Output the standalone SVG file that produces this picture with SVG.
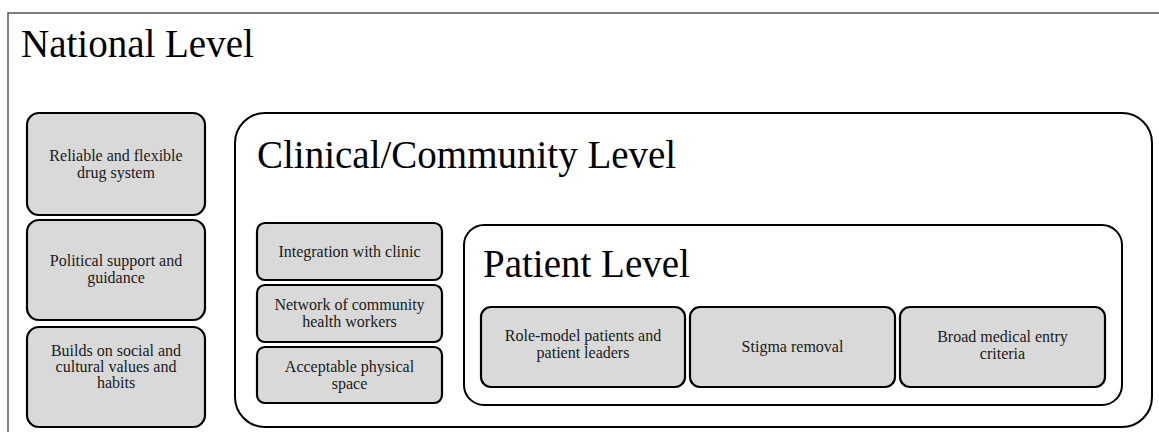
<svg xmlns="http://www.w3.org/2000/svg" width="1159" height="432" viewBox="0 0 1159 432" font-family="Liberation Serif">
<style>
.frame{fill:none;stroke:#555;stroke-width:1.5}
.level{fill:#fff;stroke:#000;stroke-width:2}
.box{fill:#d9d9d9;stroke:#000;stroke-width:2.2}
</style>
<rect x="0" y="0" width="1159" height="432" fill="#fff"/>
<g id="national">
<path class="frame" d="M1159 13 H8 V432"/>
<text x="21" y="57" font-size="39" fill="#000" font-family="Liberation Serif">National Level</text>
</g>
<g id="nat1"><rect class="box" x="27" y="113" width="178" height="102" rx="12"/><text fill="#1a1a1a" font-size="16" text-anchor="middle" font-family="Liberation Serif"><tspan x="116" y="161">Reliable and flexible</tspan><tspan x="116" y="178">drug system</tspan></text></g>
<g id="nat2"><rect class="box" x="27" y="220" width="178" height="100" rx="12"/><text fill="#1a1a1a" font-size="16" text-anchor="middle" font-family="Liberation Serif"><tspan x="116" y="266">Political support and</tspan><tspan x="116" y="283">guidance</tspan></text></g>
<g id="nat3"><rect class="box" x="27" y="327" width="178" height="100" rx="12"/><text fill="#1a1a1a" font-size="16" text-anchor="middle" font-family="Liberation Serif"><tspan x="116" y="356">Builds on social and</tspan><tspan x="116" y="372">cultural values and</tspan><tspan x="116" y="388">habits</tspan></text></g>
<g id="clinical">
<rect class="level" x="235" y="113" width="917" height="314" rx="30"/>
<text x="257" y="168" font-size="39" fill="#000" font-family="Liberation Serif">Clinical/Community Level</text>
</g>
<g id="cl1"><rect class="box" x="257" y="223" width="185" height="57" rx="8"/><text x="349.5" y="257" fill="#1a1a1a" font-size="16" text-anchor="middle" font-family="Liberation Serif">Integration with clinic</text></g>
<g id="cl2"><rect class="box" x="257" y="285" width="185" height="57" rx="8"/><text fill="#1a1a1a" font-size="16" text-anchor="middle" font-family="Liberation Serif"><tspan x="349.5" y="310">Network of community</tspan><tspan x="349.5" y="327">health workers</tspan></text></g>
<g id="cl3"><rect class="box" x="257" y="347" width="185" height="56" rx="8"/><text fill="#1a1a1a" font-size="16" text-anchor="middle" font-family="Liberation Serif"><tspan x="349.5" y="372">Acceptable physical</tspan><tspan x="349.5" y="389">space</tspan></text></g>
<g id="patient">
<rect class="level" x="464" y="225" width="658" height="180" rx="20"/>
<text x="483" y="277" font-size="39" fill="#000" font-family="Liberation Serif">Patient Level</text>
</g>
<g id="pt1"><rect class="box" x="481" y="307" width="204" height="80" rx="10"/><text fill="#1a1a1a" font-size="16" text-anchor="middle" font-family="Liberation Serif"><tspan x="583" y="341">Role-model patients and</tspan><tspan x="583" y="358">patient leaders</tspan></text></g>
<g id="pt2"><rect class="box" x="690" y="307" width="205" height="80" rx="10"/><text x="792.5" y="352" fill="#1a1a1a" font-size="16" text-anchor="middle" font-family="Liberation Serif">Stigma removal</text></g>
<g id="pt3"><rect class="box" x="900" y="307" width="205" height="80" rx="10"/><text fill="#1a1a1a" font-size="16" text-anchor="middle" font-family="Liberation Serif"><tspan x="1002.5" y="342">Broad medical entry</tspan><tspan x="1002.5" y="359">criteria</tspan></text></g>
<g id="connectors"/>
</svg>
